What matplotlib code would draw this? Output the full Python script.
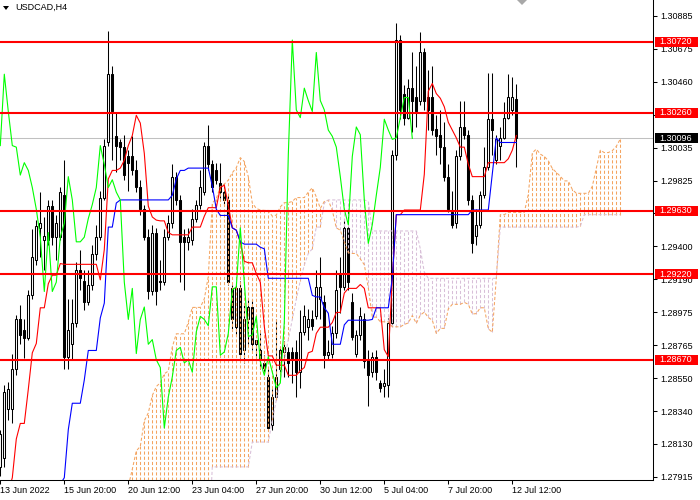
import numpy as np
import matplotlib
matplotlib.use("Agg")
import matplotlib.pyplot as plt
from matplotlib.patches import Rectangle, Polygon
from matplotlib.transforms import blended_transform_factory, IdentityTransform

plt.rcParams['font.family'] = ['Liberation Sans', 'DejaVu Sans']

symbol = "USDCAD,H4"
date_labels = ["13 Jun 2022", "15 Jun 20:00", "20 Jun 12:00", "23 Jun 04:00", "27 Jun 20:00",
               "30 Jun 12:00", "5 Jul 04:00", "7 Jul 20:00", "12 Jul 12:00"]
date_bars = [0, 16, 32, 48, 64, 80, 96, 112, 128]

price_ticks = [1.30885, 1.30675, 1.30460, 1.30250, 1.30035, 1.29825, 1.29615, 1.29400,
               1.29190, 1.28975, 1.28765, 1.28550, 1.28340, 1.28130, 1.27915]
hidden_ticks = [1.30250, 1.29615]   # fully covered by the level labels in the chart
levels = [1.30720, 1.30260, 1.29630, 1.29220, 1.28670]
bid = 1.30096

open_ = [
    1.2798, 1.2804, 1.2835, 1.2835, 1.2861, 1.2893, 1.2886, 1.2881, 1.2909, 1.2931,
    1.2952, 1.2944, 1.2944, 1.2966, 1.2946, 1.2946, 1.2973, 1.2869, 1.2877, 1.2891,
    1.2925, 1.2918, 1.2904, 1.2915, 1.2935, 1.2946, 1.2971, 1.3007, 1.3051, 1.3011,
    1.3007, 1.3004, 1.2998, 1.2998, 1.2989, 1.2978, 1.2964, 1.2946, 1.2911, 1.2949,
    1.2918, 1.2917, 1.2946, 1.2955, 1.2985, 1.2970, 1.2946, 1.2943, 1.2944, 1.2958,
    1.2967, 1.2975, 1.3005, 1.2993, 1.2989, 1.2981, 1.2975, 1.2970, 1.2913, 1.2888,
    1.2913, 1.2873, 1.2893, 1.2901, 1.2877, 1.2873, 1.2865, 1.2856, 1.2825, 1.2843,
    1.2861, 1.2872, 1.2872, 1.2872, 1.2872, 1.2859, 1.2885, 1.2888, 1.2893, 1.2895,
    1.2906, 1.2904, 1.2870, 1.2871, 1.2884, 1.2922, 1.2914, 1.2952, 1.2904, 1.2871,
    1.2883, 1.2893, 1.2867, 1.2859, 1.2869, 1.2852, 1.2850, 1.2851, 1.2891, 1.2999,
    1.3073, 1.3038, 1.3023, 1.3042, 1.3036, 1.3034, 1.3065, 1.3036, 1.3036, 1.3016,
    1.3012, 1.3004, 1.2985, 1.2962, 1.2955, 1.2998, 1.3017, 1.3012, 1.2970, 1.2947,
    1.2954, 1.2973, 1.2991, 1.3022, 1.2996, 1.3005, 1.3010, 1.3023, 1.3028, 1.3035,
]
high = [
    1.2822, 1.2851, 1.2853, 1.2871, 1.2896, 1.2902, 1.2893, 1.2912, 1.2951, 1.2957,
    1.2975, 1.2959, 1.2970, 1.2970, 1.2960, 1.2978, 1.2996, 1.2906, 1.2906, 1.2930,
    1.2938, 1.2925, 1.2925, 1.2941, 1.2954, 1.2976, 1.3009, 1.3079, 1.3056, 1.3026,
    1.3009, 1.3012, 1.3002, 1.3011, 1.2996, 1.2983, 1.2967, 1.2951, 1.2954, 1.2952,
    1.2931, 1.2951, 1.2960, 1.2993, 1.2988, 1.2973, 1.2951, 1.2952, 1.2964, 1.2970,
    1.2989, 1.3007, 1.3018, 1.2996, 1.2994, 1.2994, 1.2980, 1.2973, 1.2915, 1.2915,
    1.2918, 1.2902, 1.2906, 1.2906, 1.2880, 1.2884, 1.2870, 1.2861, 1.2848, 1.2893,
    1.2875, 1.2879, 1.2875, 1.2875, 1.2880, 1.2899, 1.2902, 1.2900, 1.2899, 1.2925,
    1.2933, 1.2909, 1.2880, 1.2889, 1.2925, 1.2933, 1.2958, 1.2964, 1.2910, 1.2886,
    1.2901, 1.2897, 1.2873, 1.2872, 1.2873, 1.2854, 1.2861, 1.2894, 1.3002, 1.3084,
    1.3076, 1.3044, 1.3048, 1.3065, 1.3056, 1.3078, 1.3068, 1.3054, 1.3056, 1.3025,
    1.3028, 1.3020, 1.2993, 1.2976, 1.3002, 1.3034, 1.3034, 1.3015, 1.2973, 1.2964,
    1.2976, 1.3004, 1.3052, 1.3052, 1.3012, 1.3017, 1.3033, 1.3051, 1.3049, 1.3045,
]
low = [
    1.2792, 1.2798, 1.2828, 1.2826, 1.2857, 1.2877, 1.2868, 1.2880, 1.2906, 1.2928,
    1.2933, 1.2925, 1.2941, 1.2941, 1.2931, 1.2944, 1.2861, 1.2861, 1.2867, 1.2888,
    1.2912, 1.2899, 1.2902, 1.2912, 1.2931, 1.2944, 1.2970, 1.3005, 1.2996, 1.2988,
    1.2996, 1.2983, 1.2976, 1.2986, 1.2975, 1.2960, 1.2944, 1.2906, 1.2909, 1.2902,
    1.2912, 1.2915, 1.2944, 1.2952, 1.2967, 1.2917, 1.2912, 1.2938, 1.2941, 1.2956,
    1.2964, 1.2973, 1.2989, 1.2975, 1.2980, 1.2971, 1.2967, 1.2915, 1.2886, 1.2883,
    1.2868, 1.2865, 1.2877, 1.2873, 1.2869, 1.2861, 1.2859, 1.2821, 1.2822, 1.2841,
    1.2859, 1.2856, 1.2856, 1.2852, 1.2843, 1.2849, 1.2883, 1.2880, 1.2886, 1.2893,
    1.2893, 1.2862, 1.2867, 1.2868, 1.2881, 1.2897, 1.2912, 1.2912, 1.2880, 1.2869,
    1.2880, 1.2862, 1.2837, 1.2856, 1.2854, 1.2846, 1.2843, 1.2843, 1.2889, 1.2996,
    1.3022, 1.3018, 1.3022, 1.3014, 1.3017, 1.3031, 1.3028, 1.3015, 1.3012, 1.2999,
    1.2993, 1.2982, 1.2962, 1.2952, 1.2952, 1.2996, 1.3009, 1.2967, 1.2936, 1.2941,
    1.2952, 1.2971, 1.2989, 1.2999, 1.2993, 1.2996, 1.3009, 1.3022, 1.3025, 1.2991,
]
close = [
    1.2819, 1.2846, 1.2848, 1.2861, 1.2893, 1.2883, 1.2881, 1.2909, 1.2933, 1.2953,
    1.2955, 1.2947, 1.2966, 1.2946, 1.2955, 1.2975, 1.2869, 1.2886, 1.2891, 1.2925,
    1.2920, 1.2904, 1.2915, 1.2935, 1.2946, 1.2971, 1.3005, 1.3051, 1.3027, 1.3005,
    1.3004, 1.2986, 1.2994, 1.2989, 1.2978, 1.2964, 1.2946, 1.2911, 1.2949, 1.2911,
    1.2917, 1.2946, 1.2955, 1.2985, 1.2970, 1.2943, 1.2943, 1.2946, 1.2958, 1.2967,
    1.2978, 1.3005, 1.2993, 1.2978, 1.2983, 1.2975, 1.2970, 1.2917, 1.2893, 1.2913,
    1.2871, 1.2893, 1.2901, 1.2877, 1.2880, 1.2867, 1.2862, 1.2823, 1.2843, 1.2856,
    1.2873, 1.2875, 1.2865, 1.2867, 1.2859, 1.2885, 1.2895, 1.2893, 1.2889, 1.2914,
    1.2914, 1.2870, 1.2872, 1.2884, 1.2912, 1.2914, 1.2952, 1.2917, 1.2882, 1.2883,
    1.2895, 1.2866, 1.2857, 1.2869, 1.2859, 1.2849, 1.2852, 1.2891, 1.2999, 1.3073,
    1.3028, 1.3023, 1.3042, 1.3034, 1.3027, 1.3065, 1.3034, 1.3028, 1.3015, 1.3011,
    1.3004, 1.2985, 1.2964, 1.2954, 1.2998, 1.3017, 1.3012, 1.2970, 1.2942, 1.2954,
    1.2973, 1.2991, 1.3022, 1.3015, 1.3009, 1.3010, 1.3023, 1.3036, 1.3036, 1.30096,
]

# Ichimoku values whose look-back window reaches before the first visible bar
tenkan_early = [1.2770, 1.2775, 1.2782, 1.2791, 1.2816, 1.2826, 1.2826, 1.2848]
kijun_early = [1.2745, 1.2745, 1.2745, 1.2745, 1.2745, 1.2745, 1.2745, 1.2745, 1.2745, 1.2745,
               1.2755, 1.2765, 1.2772, 1.2778, 1.2783, 1.2787, 1.2791, 1.2822, 1.2839, 1.2839,
               1.2839, 1.2854, 1.2873, 1.2873, 1.2873]
spanb_early = [
    1.2745, 1.2745, 1.2745, 1.2745, 1.2745, 1.2745, 1.2745, 1.2745, 1.2745, 1.2745,
    1.2745, 1.2745, 1.2745, 1.2745, 1.2745, 1.2745, 1.2745, 1.2745, 1.2745, 1.2745,
    1.2745, 1.2745, 1.2745, 1.2745, 1.2745, 1.2745, 1.2745,
    1.2798, 1.2798, 1.2798, 1.2798, 1.2798, 1.2798, 1.2798, 1.2798, 1.2798, 1.2798,
    1.2814, 1.2814, 1.2814, 1.2814, 1.2814,
    1.2828, 1.2841, 1.2854, 1.2867, 1.2880, 1.2893, 1.2906, 1.2918, 1.2928]

n = min(len(open_), len(high), len(low), len(close))
O = np.array(open_[:n]); H = np.array(high[:n]); L = np.array(low[:n]); C = np.array(close[:n])
x = np.arange(n)

def midrange(k, period):
    a = max(0, k - period + 1)
    return (H[a:k + 1].max() + L[a:k + 1].min()) / 2

tenkan = np.array([tenkan_early[k] if k < len(tenkan_early) else midrange(k, 9) for k in range(n)])
kijun = np.array([kijun_early[k] if k < len(kijun_early) else midrange(k, 26) for k in range(n)])
span_a = (tenkan + kijun) / 2
span_b = np.array([spanb_early[k] if k < len(spanb_early) else midrange(k, 52) for k in range(n)])
shift = 26

fig = plt.figure(figsize=(7, 5), dpi=100)
ax = fig.add_axes([0, 20 / 500, 653 / 700, 480 / 500])
ax.set_facecolor('white')

# bid line
ax.axhline(bid, color='#C0C0C0', lw=0.75, zorder=0.5)

# candles
ax.vlines(x, L, H, color='black', lw=0.75, zorder=1)
bull = C >= O
ax.bar(x[bull], (C - O)[bull], bottom=O[bull], width=0.5, color='white',
       edgecolor='black', linewidth=0.75, zorder=2)
ax.bar(x[~bull], (O - C)[~bull], bottom=C[~bull], width=0.5, color='black',
       edgecolor='black', linewidth=0.75, zorder=2)

# cloud
cx = x + shift
up = span_a >= span_b
dash = [(0, (3, 2))]
ax.vlines(cx[up], span_b[up], span_a[up], colors='#F4A460', linewidth=0.75,
          linestyles=dash, zorder=3)
ax.vlines(cx[~up], span_a[~up], span_b[~up], colors='#D8BFD8', linewidth=0.75,
          linestyles=dash, zorder=3)
ax.plot(cx, span_a, color='#F4A460', lw=0.75, ls=(0, (3, 2)), zorder=3)
ax.plot(cx, span_b, color='#D8BFD8', lw=0.75, ls=(0, (3, 2)), zorder=3)

# lines
ax.plot(x, tenkan, color='#FF0000', lw=0.8, zorder=4)
ax.plot(x, kijun, color='#0000FF', lw=0.8, zorder=4)
ax.plot(x[:n - shift], C[shift:], color='#00FF00', lw=0.8, zorder=4)

# levels
for lv in levels:
    ax.axhline(lv, color='#FF0000', lw=1.5, zorder=6)

ax.set_xlim(-0.075, -0.075 + 653 / 4)
ax.set_ylim(1.278955, 1.30988)

for s in ['left', 'top']:
    ax.spines[s].set_visible(False)
for s in ['right', 'bottom']:
    ax.spines[s].set_linewidth(0.75)
    ax.spines[s].set_color('black')

ax.yaxis.tick_right()
ax.set_yticks(price_ticks)
ax.set_yticklabels(["" if v in hidden_ticks else f"{v:.5f}" for v in price_ticks])
ax.tick_params(axis='y', direction='out', length=3, width=0.75, pad=2.2, labelsize=6.5,
               colors='black')
ax.set_xticks(date_bars)
ax.set_xticklabels(date_labels)
ax.tick_params(axis='x', direction='out', length=3, width=0.75, pad=1.5, labelsize=6.5,
               colors='black')
for lbl in ax.get_xticklabels():
    lbl.set_ha('left')

# price label boxes
tr = blended_transform_factory(IdentityTransform(), ax.transData)
px = 0.00006443
def price_box(val, fc):
    r = Rectangle((655, val - 5 * px), 43, 10 * px, transform=tr, facecolor=fc,
                  edgecolor='none', clip_on=False, zorder=10)
    ax.add_artist(r)
    ax.text(659, val, f"{val:.5f}", transform=tr, va='center', ha='left', color='white',
            fontsize=6.5, clip_on=False, zorder=11)

for lv in levels:
    price_box(lv, '#FF0000')
price_box(bid, '#000000')

# top-left caption and markers
fig.patches.append(Polygon([[3, 494], [9, 494], [6, 490]], closed=True, facecolor='black',
                           edgecolor='none', transform=IdentityTransform(), figure=fig))
fig.text(15 / 700, 1 - 7 / 500, symbol, ha='left', va='center', fontsize=6.5, color='#000000')
fig.patches.append(Polygon([[517, 500], [527, 500], [522, 495]], closed=True,
                           facecolor='#A8A8A8', edgecolor='none',
                           transform=IdentityTransform(), figure=fig))

fig.savefig('out.png', dpi=100, facecolor='white')
